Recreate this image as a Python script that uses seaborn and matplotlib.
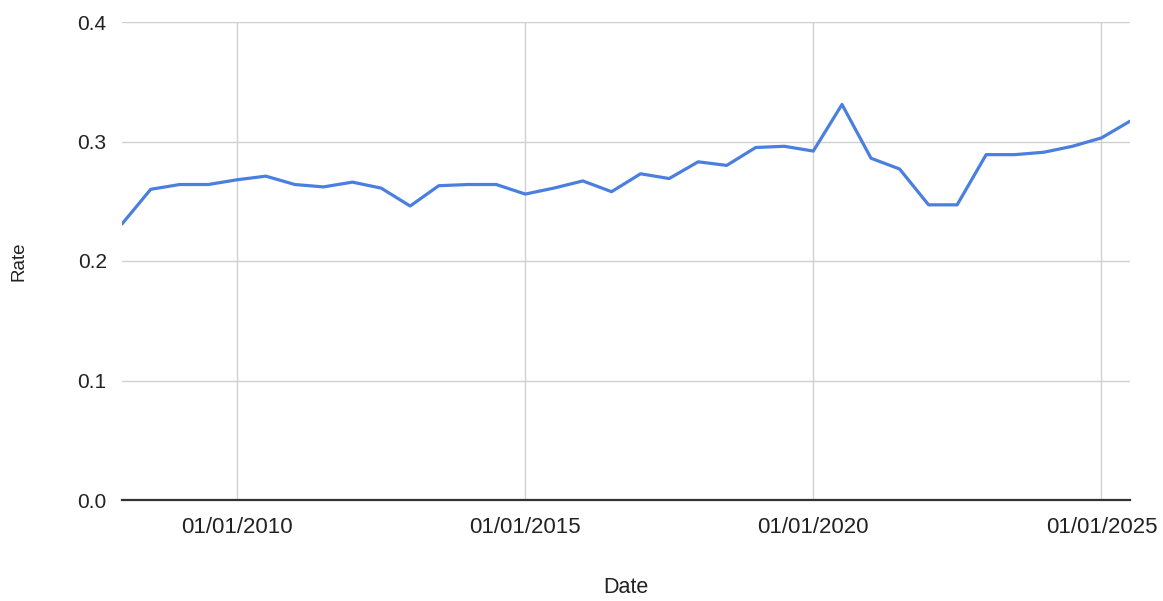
import matplotlib
matplotlib.use("Agg")
import matplotlib.pyplot as plt
import matplotlib.dates as mdates
import seaborn as sns
import pandas as pd

dates = pd.date_range("2008-01-01", periods=36, freq="6MS")
rates = [0.231, 0.260, 0.264, 0.264, 0.268, 0.271, 0.264, 0.262, 0.266, 0.261,
         0.246, 0.263, 0.264, 0.264, 0.256, 0.261, 0.267, 0.258, 0.273, 0.269,
         0.283, 0.280, 0.295, 0.296, 0.292, 0.331, 0.286, 0.277, 0.247, 0.247,
         0.289, 0.289, 0.291, 0.296, 0.303, 0.317]
yticks = [0.0, 0.1, 0.2, 0.3, 0.4]
xtick_years = [2010, 2015, 2020, 2025]

df = pd.DataFrame({"Date": dates, "Rate": rates})

sns.set_theme(style="white")
plt.rcParams["font.family"] = ["Liberation Sans", "DejaVu Sans"]

fig = plt.figure(figsize=(11.63, 6.01), dpi=100)
ax = fig.add_axes([122/1163, 1-500/601, (1130-122)/1163, (500-22)/601])

sns.lineplot(data=df, x="Date", y="Rate", ax=ax, color="#4a7fe0", linewidth=2.3)

ax.set_ylim(0, 0.4)
ax.set_xlim(pd.Timestamp("2008-01-01"), pd.Timestamp("2025-07-01"))
ax.set_yticks(yticks)
ax.set_yticklabels([f"{v:.1f}" for v in yticks])
ax.set_xticks([pd.Timestamp(f"{y}-01-01") for y in xtick_years])
ax.xaxis.set_major_formatter(mdates.DateFormatter("%m/%d/%Y"))

ax.grid(True, color="#d0d0d0", linewidth=1.0)
ax.set_axisbelow(True)
for s in ["top", "right", "left"]:
    ax.spines[s].set_visible(False)
ax.spines["bottom"].set_color("#333333")
ax.spines["bottom"].set_linewidth(1.6)
ax.spines["bottom"].set_zorder(3)

ax.tick_params(axis="both", length=0, colors="#222222")
ax.tick_params(axis="y", pad=11, labelsize=15)
ax.tick_params(axis="x", pad=12, labelsize=16)

ax.set_xlabel("Date", fontsize=15.5, color="#222222", labelpad=28)
ax.set_ylabel("Rate", fontsize=13.5, color="#222222", labelpad=36)

fig.savefig("out.png", dpi=100)
